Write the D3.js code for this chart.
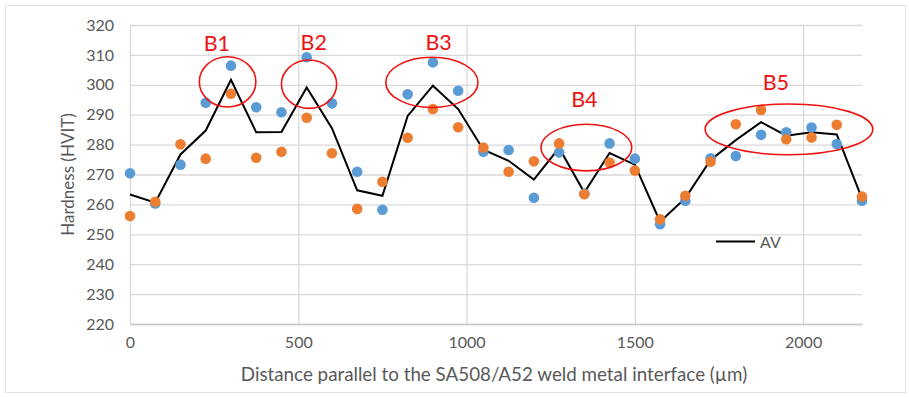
<!DOCTYPE html>
<html>
<head>
<meta charset="utf-8">
<script src="https://cdn.jsdelivr.net/npm/d3@7"></script>
<style>
  html, body { margin: 0; padding: 0; background: #fff; }
  svg { display: block; font-family: Lato, "Open Sans", sans-serif; }
</style>
</head>
<body>
<svg id="chart" width="909" height="397"></svg>
<script>
// Measurement positions along the interface (µm)
const distance = [0, 75, 150, 225, 300, 375, 450, 525, 600, 675, 750, 825, 900, 975, 1050,
  1125, 1200, 1275, 1350, 1425, 1500, 1575, 1650, 1725, 1800, 1875, 1950, 2025, 2100, 2175];

// Hardness, first indentation row
const rowA = [270.4, 260.3, 273.3, 294.0, 306.4, 292.5, 290.8, 309.2, 293.8, 270.9, 258.2, 296.8, 307.5, 298.0, 277.6,
  278.2, 262.2, 277.4, 263.6, 280.4, 275.3, 253.4, 261.2, 275.4, 276.2, 283.3, 284.1, 285.7, 280.2, 261.2];

// Hardness, second indentation row
const rowB = [256.1, 260.9, 280.1, 275.3, 297.0, 275.6, 277.6, 289.0, 277.1, 258.5, 267.6, 282.3, 291.9, 285.8, 279.0,
  270.9, 274.4, 280.4, 263.4, 274.0, 271.3, 255.0, 262.9, 274.3, 286.8, 291.6, 281.8, 282.4, 286.6, 262.6];

// Average of both rows
const average = [263.3, 260.6, 276.7, 284.7, 301.7, 284.1, 284.2, 299.1, 285.5, 264.7, 262.9, 289.6, 299.7, 291.9, 278.3,
  274.6, 268.3, 278.9, 264.0, 277.2, 273.3, 254.2, 262.1, 274.9, 281.5, 287.5, 283.0, 284.1, 283.4, 261.9];

const xTicks = [0, 500, 1000, 1500, 2000];
const yTicks = [220, 230, 240, 250, 260, 270, 280, 290, 300, 310, 320];

// Highlighted bands: label, centre (µm, HV) and radii (µm, HV)
const bandNames = ["B1", "B2", "B3", "B4", "B5"];
const bandCx = [290, 532, 897, 1356, 1958];
const bandCy = [301.0, 300.2, 300.8, 279.0, 285.1];
const bandRx = [84, 82, 137, 135, 249];
const bandRy = [8.4, 8.1, 8.4, 7.8, 8.5];
const bandLabelX = [258, 546, 917, 1350, 1919];
const bandLabelY = [311.2, 311.6, 311.6, 292.5, 298.3];

const colA = "#5b9bd5", colB = "#ed7d31";
const grid = "#d9d9d9", textCol = "#595959";

const svg = d3.select("#chart");
const W = 909, H = 397;
const m = { left: 130, right: 47, top: 25, bottom: 73 };

const x = d3.scaleLinear().domain([0, 2175]).range([m.left, W - m.right]);
const y = d3.scaleLinear().domain([220, 320]).range([H - m.bottom, m.top]);

// chart frame
svg.append("rect")
  .attr("x", 5.5).attr("y", 5.5).attr("width", W - 9).attr("height", H - 10)
  .attr("fill", "#fff").attr("stroke", "#e3e3e3").attr("stroke-width", 1);

// horizontal gridlines
svg.append("g")
  .attr("transform", `translate(${m.left},0)`)
  .call(d3.axisLeft(y).tickValues(yTicks).tickSize(-(W - m.left - m.right)).tickFormat(""))
  .call(g => g.select(".domain").remove())
  .call(g => g.selectAll("line").attr("stroke", grid).attr("stroke-width", 1.3));

// vertical gridlines
svg.append("g")
  .attr("transform", `translate(0,${m.top})`)
  .call(d3.axisBottom(x).tickValues(xTicks).tickSize(H - m.top - m.bottom).tickFormat(""))
  .call(g => g.select(".domain").remove())
  .call(g => g.selectAll("line").attr("stroke", grid).attr("stroke-width", 1.3));

// y tick labels
svg.append("g")
  .attr("transform", `translate(${m.left},0)`)
  .call(d3.axisLeft(y).tickValues(yTicks).tickSize(0).tickPadding(16).tickFormat(d3.format("d")))
  .call(g => g.select(".domain").remove())
  .call(g => g.selectAll("text").attr("fill", textCol).style("font-size", "16px")
    .style("font-family", "Lato, sans-serif"));

// x axis
svg.append("g")
  .attr("transform", `translate(0,${H - m.bottom})`)
  .call(d3.axisBottom(x).tickValues(xTicks).tickSize(0).tickPadding(13).tickFormat(d3.format("d")))
  .call(g => g.select(".domain").attr("stroke", "#c8c8c8").attr("stroke-width", 1.5))
  .call(g => g.selectAll("text").attr("fill", textCol).style("font-size", "16px")
    .style("font-family", "Lato, sans-serif"));

// axis titles
svg.append("text")
  .attr("x", (m.left + W - m.right) / 2 - 2).attr("y", 381)
  .attr("text-anchor", "middle").attr("fill", textCol)
  .style("font-size", "18.8px")
  .text("Distance parallel to the SA508/A52 weld metal interface (µm)");

svg.append("text")
  .attr("transform", `translate(74,${(m.top + H - m.bottom) / 2}) rotate(-90)`)
  .attr("text-anchor", "middle").attr("fill", textCol)
  .style("font-size", "17px")
  .text("Hardness (HVIT)");

// average line
const line = d3.line().x((d, i) => x(distance[i])).y(d => y(d));
svg.append("path")
  .datum(average)
  .attr("d", line)
  .attr("fill", "none").attr("stroke", "#000").attr("stroke-width", 2)
  .attr("stroke-linejoin", "miter");

// measurement points
svg.append("g").selectAll("circle").data(rowA).join("circle")
  .attr("cx", (d, i) => x(distance[i])).attr("cy", d => y(d))
  .attr("r", 5.3).attr("fill", colA);

svg.append("g").selectAll("circle").data(rowB).join("circle")
  .attr("cx", (d, i) => x(distance[i])).attr("cy", d => y(d))
  .attr("r", 5.3).attr("fill", colB);

// band highlights
const bands = svg.append("g");
bands.selectAll("ellipse").data(bandNames).join("ellipse")
  .attr("cx", (d, i) => x(bandCx[i]))
  .attr("cy", (d, i) => y(bandCy[i]))
  .attr("rx", (d, i) => x(bandRx[i]) - x(0))
  .attr("ry", (d, i) => y(0) - y(bandRy[i]))
  .attr("fill", "none").attr("stroke", "#ee1111").attr("stroke-width", 1.6);

bands.selectAll("text").data(bandNames).join("text")
  .attr("x", (d, i) => x(bandLabelX[i]))
  .attr("y", (d, i) => y(bandLabelY[i]))
  .attr("text-anchor", "middle").attr("fill", "#ee1111")
  .style("font-size", "21.5px")
  .text(d => d);

// legend
const lg = svg.append("g").attr("transform", "translate(716,241.5)");
lg.append("line").attr("x1", 0).attr("x2", 39).attr("y1", 0).attr("y2", 0)
  .attr("stroke", "#000").attr("stroke-width", 2);
lg.append("text").attr("x", 44).attr("y", 6).attr("fill", textCol)
  .style("font-size", "16px").text("AV");
</script>
</body>
</html>
